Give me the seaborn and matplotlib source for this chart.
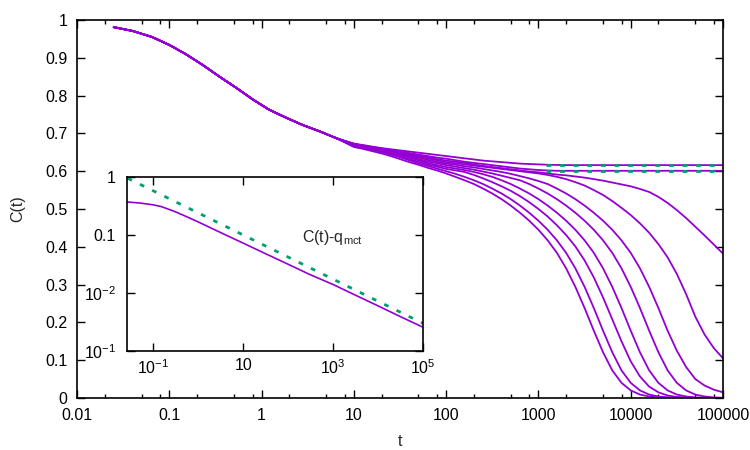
import numpy as np
import pandas as pd
import matplotlib

matplotlib.use("Agg")
import matplotlib.pyplot as plt
import seaborn as sns
from matplotlib.ticker import FixedLocator, FixedFormatter, NullFormatter

# early part, shared by every curve
t_early = [0.025, 0.04, 0.065, 0.1, 0.15, 0.23, 0.35, 0.55, 0.8, 1.2, 1.9, 2.8, 4.3, 6.5]
c_early = [0.981, 0.971, 0.955, 0.934, 0.910, 0.881, 0.850, 0.818, 0.790, 0.763,
           0.740, 0.722, 0.705, 0.687]

# late part, one array per curve (top to bottom)
t_late = [10, 12.6, 15.8, 20, 25.1, 31.6, 39.8, 50.1, 63.1, 79.4,
          100, 126, 158, 200, 251, 316, 398, 501, 631, 794,
          1000, 1259, 1585, 1995, 2512, 3162, 3981, 5012, 6310, 7943,
          10000, 12589, 15849, 19953, 25119, 31623, 39811, 50119, 63096, 79433,
          100000]
c_p1 = [0.673, 0.669, 0.665, 0.661, 0.658, 0.655, 0.652, 0.649, 0.646, 0.643,
        0.640, 0.637, 0.634, 0.631, 0.628, 0.626, 0.624, 0.622, 0.620, 0.619,
        0.618, 0.617, 0.6165, 0.616, 0.616, 0.616, 0.616, 0.616, 0.616, 0.616,
        0.616, 0.616, 0.616, 0.616, 0.616, 0.616, 0.616, 0.616, 0.616, 0.616,
        0.616]
c_p2 = [0.672, 0.668, 0.664, 0.660, 0.656, 0.652, 0.648, 0.644, 0.640, 0.636,
        0.633, 0.629, 0.625, 0.622, 0.619, 0.616, 0.613, 0.610, 0.607, 0.605,
        0.603, 0.602, 0.601, 0.601, 0.601, 0.601, 0.601, 0.601, 0.601, 0.601,
        0.601, 0.601, 0.601, 0.601, 0.601, 0.601, 0.601, 0.601, 0.601, 0.601,
        0.601]
c_z = [0.672, 0.667, 0.663, 0.659, 0.655, 0.651, 0.646, 0.641, 0.637, 0.632,
       0.628, 0.625, 0.622, 0.618, 0.614, 0.611, 0.608, 0.605, 0.602, 0.599,
       0.597, 0.594, 0.591, 0.589, 0.586, 0.583, 0.579, 0.575, 0.570, 0.565,
       0.560, 0.553, 0.545, 0.532, 0.516, 0.497, 0.476, 0.453, 0.430, 0.406,
       0.382]
c_a = [0.671, 0.666, 0.662, 0.658, 0.654, 0.649, 0.644, 0.639, 0.634, 0.629,
       0.624, 0.621, 0.618, 0.615, 0.612, 0.609, 0.606, 0.603, 0.600, 0.597,
       0.594, 0.590, 0.585, 0.579, 0.571, 0.562, 0.550, 0.537, 0.521, 0.503,
       0.484, 0.462, 0.437, 0.407, 0.372, 0.328, 0.275, 0.215, 0.168, 0.132,
       0.105]
c_b = [0.670, 0.665, 0.661, 0.656, 0.652, 0.647, 0.642, 0.636, 0.630, 0.625,
       0.620, 0.617, 0.613, 0.610, 0.606, 0.602, 0.598, 0.593, 0.587, 0.581,
       0.574, 0.566, 0.554, 0.541, 0.526, 0.509, 0.490, 0.469, 0.445, 0.417,
       0.384, 0.343, 0.294, 0.238, 0.178, 0.125, 0.082, 0.050, 0.033, 0.022,
       0.015]
c_c = [0.669, 0.664, 0.659, 0.655, 0.650, 0.645, 0.639, 0.632, 0.626, 0.621,
       0.616, 0.612, 0.608, 0.604, 0.599, 0.594, 0.588, 0.582, 0.576, 0.566,
       0.554, 0.541, 0.526, 0.509, 0.490, 0.469, 0.445, 0.417, 0.384, 0.343,
       0.294, 0.238, 0.178, 0.121, 0.073, 0.040, 0.020, 0.009, 0.004, 0.0015,
       0.0005]
c_d = [0.668, 0.663, 0.658, 0.653, 0.648, 0.642, 0.636, 0.629, 0.622, 0.616,
       0.611, 0.607, 0.603, 0.598, 0.592, 0.585, 0.576, 0.566, 0.554, 0.541,
       0.526, 0.509, 0.490, 0.469, 0.445, 0.417, 0.384, 0.343, 0.294, 0.238,
       0.178, 0.121, 0.073, 0.040, 0.020, 0.009, 0.004, 0.0015, 0.0005, 0.0,
       0.0]
c_e = [0.667, 0.662, 0.657, 0.652, 0.646, 0.639, 0.632, 0.625, 0.618, 0.612,
       0.606, 0.602, 0.598, 0.590, 0.581, 0.571, 0.560, 0.548, 0.534, 0.518,
       0.500, 0.480, 0.457, 0.431, 0.401, 0.364, 0.319, 0.266, 0.208, 0.150,
       0.097, 0.057, 0.030, 0.015, 0.0065, 0.0028, 0.001, 0.0003, 0.0, 0.0,
       0.0]
c_f = [0.666, 0.661, 0.656, 0.650, 0.644, 0.637, 0.629, 0.621, 0.614, 0.607,
       0.600, 0.593, 0.585, 0.576, 0.566, 0.554, 0.541, 0.526, 0.509, 0.490,
       0.469, 0.445, 0.417, 0.384, 0.343, 0.294, 0.238, 0.178, 0.121, 0.073,
       0.040, 0.020, 0.009, 0.004, 0.0015, 0.0005, 0.0, 0.0, 0.0, 0.0,
       0.0]
c_g = [0.664, 0.659, 0.653, 0.647, 0.640, 0.632, 0.624, 0.617, 0.609, 0.602,
       0.594, 0.585, 0.576, 0.566, 0.554, 0.541, 0.526, 0.509, 0.490, 0.469,
       0.445, 0.417, 0.384, 0.343, 0.294, 0.238, 0.178, 0.121, 0.073, 0.040,
       0.020, 0.009, 0.004, 0.0015, 0.0005, 0.0, 0.0, 0.0, 0.0, 0.0,
       0.0]

# plateau guides
t_plat = [1200, 100000]
q_hi = [0.616, 0.616]
q_lo = [0.601, 0.601]

# inset: C(t) - q_mct
t_in = [0.026, 0.05, 0.1, 0.15, 0.2, 0.3, 0.5, 1, 2, 5, 10, 30, 100, 300, 1000,
        3000, 10000, 30000, 100000]
c_in = [0.371, 0.356, 0.331, 0.309, 0.285, 0.254, 0.214, 0.168, 0.130, 0.093, 0.0724,
        0.0484, 0.0313, 0.0209, 0.0140, 0.00933, 0.0060, 0.00398, 0.00257]
t_fit = [0.027, 100000]
c_fit = [0.95, 0.0030]

purple = "#9400d3"
green = "#009e73"

sns.set_style("ticks")
plt.rcParams["font.family"] = ["Liberation Sans", "DejaVu Sans"]
plt.rcParams["mathtext.default"] = "regular"
fs = 11.5

curvas = [c_p1, c_p2, c_z, c_a, c_b, c_c, c_d, c_e, c_f, c_g]
filas = []
for i, cl in enumerate(curvas):
    tt = np.concatenate([t_early, t_late])
    cc = np.concatenate([c_early, cl])
    filas.append(pd.DataFrame({"t": tt, "C": cc, "curva": i}))
df = pd.concat(filas, ignore_index=True)

fig = plt.figure(figsize=(7.5, 4.5), dpi=100)
ax = fig.add_axes([0.1027, 0.1156, 0.8613, 0.84])

sns.lineplot(data=df, x="t", y="C", hue="curva", palette=[purple] * len(curvas),
             legend=False, estimator=None, linewidth=1.3, ax=ax)
for q in (q_hi, q_lo):
    sns.lineplot(x=t_plat, y=q, color=green, linewidth=2.0,
                 linestyle=(0, (1.7, 3.2)), ax=ax)

ax.set_xscale("log")
ax.set_xlim(0.01, 1e5)
ax.set_ylim(0, 1)
xt = [0.01, 0.1, 1, 10, 100, 1000, 10000, 100000]
ax.xaxis.set_major_locator(FixedLocator(xt))
ax.xaxis.set_major_formatter(FixedFormatter(["0.01", "0.1", "1", "10", "100", "1000",
                                             "10000", "100000"]))
minors = [m * d for d in xt[:-1] for m in (2, 5, 8)]
ax.xaxis.set_minor_locator(FixedLocator(minors))
ax.xaxis.set_minor_formatter(NullFormatter())
yt = np.round(np.arange(0, 1.01, 0.1), 1)
ax.set_yticks(yt)
ax.set_yticklabels(["0"] + [f"{v:g}" for v in yt[1:-1]] + ["1"])
ax.tick_params(which="both", direction="in", top=True, right=True, labelsize=fs,
               colors="black", width=1.0)
ax.tick_params(which="major", length=6, pad=7)
ax.tick_params(which="minor", length=3)
ax.set_xlabel("t", fontsize=fs, labelpad=8)
ax.set_ylabel("C(t)", fontsize=fs, labelpad=14)
for s in ax.spines.values():
    s.set_linewidth(1.2)
    s.set_color("black")

# inset
axi = fig.add_axes([0.1693, 0.22, 0.3947, 0.3867])
axi.set_facecolor("white")
sns.lineplot(x=t_in, y=c_in, color=purple, linewidth=1.2, ax=axi)
sns.lineplot(x=t_fit, y=c_fit, color=green, linewidth=2.0,
             linestyle=(0, (1.7, 3.2)), ax=axi)
axi.set_xscale("log")
axi.set_yscale("log")
axi.set_xlim(0.026, 1e5)
axi.set_ylim(1e-3, 1)
axi.xaxis.set_major_locator(FixedLocator([0.1, 10, 1000, 100000]))
axi.xaxis.set_major_formatter(FixedFormatter(["10$^{-1}$", "10", "10$^{3}$", "10$^{5}$"]))
axi.yaxis.set_major_locator(FixedLocator([1e-3, 1e-2, 0.1, 1]))
axi.yaxis.set_major_formatter(FixedFormatter(["10$^{-1}$", "10$^{-2}$", "0.1", "1"]))
axi.xaxis.set_minor_locator(FixedLocator([]))
axi.yaxis.set_minor_locator(FixedLocator([]))
axi.tick_params(which="both", direction="in", top=True, right=True, labelsize=fs,
                length=6, width=1.0, colors="black")
axi.tick_params(axis="x", pad=5)
axi.tick_params(axis="y", pad=8)
axi.set_xlabel("")
axi.set_ylabel("")
axi.text(200, 0.09, "C(t)-q$_{mct}$", fontsize=fs, ha="left", va="center")
for s in axi.spines.values():
    s.set_linewidth(1.2)
    s.set_color("black")

fig.savefig("out.png", dpi=100)
